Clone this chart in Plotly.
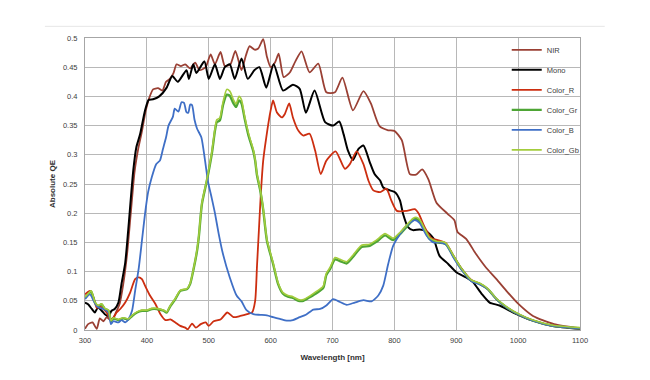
import plotly.graph_objects as go

# ---------------- data ----------------
nir_wl = [300, 305, 312, 319, 324, 330, 335, 340, 345, 350, 356, 362, 368, 374, 380, 386, 392, 398, 404, 410,
          418, 425, 431, 437, 443, 448, 455, 462, 470, 478, 485, 495, 503, 510, 519, 526, 535, 543, 553, 560,
          566, 574, 580, 588, 594, 600, 607, 613, 621, 631, 640, 650, 663, 677, 690, 704, 716, 733, 750, 762,
          776, 790, 800, 812, 825, 835, 845, 855, 868, 886, 897, 902, 916, 932, 948, 965, 981, 1000, 1024,
          1058, 1100]
nir_qe = [0.002, 0.01, 0.013, 0.002, 0.02, 0.015, 0.022, 0.018, 0.02, 0.03, 0.045, 0.08, 0.13, 0.2, 0.27, 0.31,
          0.34, 0.375, 0.398, 0.412, 0.414, 0.41, 0.425, 0.43, 0.44, 0.455, 0.452, 0.455, 0.448, 0.458, 0.445,
          0.45, 0.472, 0.455, 0.476, 0.452, 0.455, 0.478, 0.445, 0.47, 0.486, 0.48, 0.482, 0.498, 0.468, 0.45,
          0.458, 0.473, 0.433, 0.441, 0.46, 0.477, 0.441, 0.456, 0.407, 0.407, 0.432, 0.376, 0.409, 0.388,
          0.349, 0.342, 0.341, 0.325, 0.267, 0.266, 0.275, 0.258, 0.218, 0.199, 0.188, 0.168, 0.156, 0.13,
          0.107, 0.087, 0.067, 0.045, 0.024, 0.01, 0.003]

mono_wl = [300, 305, 311, 316, 321, 327, 332, 338, 343, 348, 354, 359, 365, 370, 378, 383, 389, 397, 403, 410,
           420, 432, 441, 450, 464, 468, 475, 480, 493, 500, 510, 518, 526, 534, 542, 553, 563, 574, 582, 593,
           605, 620, 636, 647, 657, 671, 688, 701, 711, 718, 725, 733, 742, 750, 760, 768, 777, 782, 793, 801,
           809, 814, 822, 830, 841, 852, 863, 873, 887, 900, 916, 927, 941, 954, 970, 992, 1024, 1056, 1100]
mono_qe = [0.047, 0.044, 0.036, 0.03, 0.039, 0.033, 0.027, 0.024, 0.033, 0.036, 0.047, 0.079, 0.115, 0.173,
           0.273, 0.313, 0.335, 0.376, 0.394, 0.395, 0.4, 0.415, 0.435, 0.425, 0.445, 0.43, 0.455, 0.44, 0.46,
           0.43, 0.455, 0.43, 0.45, 0.455, 0.43, 0.465, 0.43, 0.445, 0.45, 0.415, 0.455, 0.41, 0.42, 0.413,
           0.372, 0.41, 0.356, 0.35, 0.357, 0.335, 0.307, 0.291, 0.31, 0.316, 0.288, 0.267, 0.256, 0.244,
           0.239, 0.236, 0.222, 0.199, 0.176, 0.171, 0.172, 0.169, 0.157, 0.127, 0.113, 0.099, 0.09, 0.082,
           0.062, 0.047, 0.042, 0.03, 0.016, 0.007, 0.002]

red_wl = [300, 308, 314, 319, 324, 330, 335, 341, 346, 351, 357, 365, 373, 381, 387, 392, 397, 405, 414, 422,
          430, 438, 446, 454, 462, 466, 473, 479, 487, 495, 500, 508, 519, 530, 540, 551, 562, 570, 575, 578,
          581, 584, 588, 593, 600, 604, 610, 618, 623, 630, 636, 645, 653, 663, 672, 681, 690, 705, 720, 728,
          739, 750, 758, 766, 777, 787, 795, 804, 820, 833, 839, 849, 860, 873, 884, 895, 908, 924, 938, 951,
          965, 981, 1000, 1024, 1056, 1100]
red_qe = [0.061, 0.067, 0.055, 0.038, 0.041, 0.036, 0.03, 0.018, 0.021, 0.03, 0.036, 0.047, 0.064, 0.087, 0.09,
          0.087, 0.076, 0.059, 0.044, 0.027, 0.017, 0.018, 0.013, 0.007, 0.004, 0.001, 0.011, 0.004, 0.01,
          0.013, 0.007, 0.015, 0.018, 0.03, 0.022, 0.024, 0.027, 0.03, 0.05, 0.11, 0.17, 0.23, 0.29, 0.33,
          0.376, 0.393, 0.373, 0.364, 0.37, 0.388, 0.364, 0.341, 0.333, 0.336, 0.307, 0.267, 0.29, 0.306,
          0.276, 0.284, 0.306, 0.284, 0.256, 0.239, 0.236, 0.242, 0.222, 0.204, 0.204, 0.207, 0.2, 0.176,
          0.157, 0.153, 0.148, 0.128, 0.106, 0.086, 0.079, 0.07, 0.053, 0.039, 0.027, 0.016, 0.007, 0.003]

gr_wl = [300, 305, 310, 316, 321, 327, 332, 338, 342, 346, 354, 362, 370, 376, 384, 392, 400, 408, 416, 427,
         432, 438, 446, 454, 465, 470, 476, 481, 484, 489, 497, 505, 510, 513, 518, 523, 529, 534, 540, 544,
         549, 553, 558, 564, 568, 572, 575, 578, 583, 588, 594, 604, 612, 620, 628, 636, 645, 653, 663, 674,
         685, 690, 696, 704, 712, 723, 733, 747, 760, 771, 785, 798, 809, 820, 830, 835, 841, 847, 857, 868,
         879, 884, 895, 908, 924, 938, 951, 965, 981, 1000, 1024, 1056, 1100]
gr_qe = [0.055, 0.061, 0.066, 0.047, 0.041, 0.044, 0.036, 0.033, 0.015, 0.02, 0.017, 0.02, 0.018, 0.024, 0.03,
         0.033, 0.033, 0.036, 0.036, 0.033, 0.03, 0.041, 0.053, 0.067, 0.07, 0.079, 0.107, 0.135, 0.16, 0.216,
         0.256, 0.302, 0.341, 0.356, 0.359, 0.385, 0.403, 0.401, 0.388, 0.382, 0.393, 0.388, 0.362, 0.334,
         0.32, 0.306, 0.29, 0.265, 0.24, 0.206, 0.153, 0.113, 0.079, 0.062, 0.057, 0.055, 0.05, 0.05, 0.056,
         0.063, 0.072, 0.094, 0.104, 0.121, 0.118, 0.114, 0.125, 0.142, 0.144, 0.151, 0.162, 0.154, 0.164,
         0.177, 0.188, 0.19, 0.186, 0.175, 0.156, 0.15, 0.149, 0.146, 0.127, 0.105, 0.085, 0.079, 0.07,
         0.053, 0.039, 0.027, 0.016, 0.007, 0.003]

b_wl = [300, 308, 314, 319, 324, 330, 338, 342, 346, 354, 359, 365, 370, 376, 381, 387, 392, 397, 402, 408,
        415, 421, 426, 431, 435, 442, 445, 451, 456, 460, 464, 467, 470, 473, 477, 481, 488, 494, 499, 505,
        510, 516, 523, 534, 545, 553, 561, 572, 583, 594, 604, 615, 626, 636, 647, 657, 669, 680, 690, 701,
        712, 723, 736, 750, 763, 774, 782, 790, 798, 809, 820, 833, 841, 852, 863, 873, 884, 895, 908, 924,
        938, 951, 965, 981, 1000, 1024, 1056, 1100]
b_qe = [0.053, 0.061, 0.05, 0.041, 0.038, 0.036, 0.03, 0.01, 0.015, 0.013, 0.017, 0.013, 0.018, 0.033, 0.067,
        0.107, 0.153, 0.199, 0.236, 0.262, 0.284, 0.29, 0.31, 0.33, 0.35, 0.365, 0.379, 0.374, 0.39, 0.389,
        0.373, 0.372, 0.386, 0.385, 0.36, 0.345, 0.33, 0.29, 0.253, 0.225, 0.2, 0.165, 0.13, 0.09, 0.059,
        0.049, 0.034, 0.027, 0.026, 0.025, 0.022, 0.019, 0.016, 0.017, 0.022, 0.026, 0.035, 0.036, 0.042,
        0.053, 0.048, 0.043, 0.047, 0.051, 0.049, 0.059, 0.076, 0.113, 0.144, 0.164, 0.179, 0.188, 0.183,
        0.162, 0.15, 0.15, 0.146, 0.125, 0.104, 0.084, 0.078, 0.07, 0.053, 0.039, 0.027, 0.016, 0.007, 0.003]

gb_wl = gr_wl
gb_qe = [0.056, 0.062, 0.067, 0.048, 0.042, 0.045, 0.037, 0.034, 0.016, 0.021, 0.018, 0.021, 0.019, 0.025, 0.031,
         0.034, 0.034, 0.037, 0.037, 0.034, 0.031, 0.042, 0.054, 0.068, 0.071, 0.08, 0.108, 0.137, 0.162, 0.218,
         0.258, 0.305, 0.344, 0.36, 0.363, 0.39, 0.412, 0.409, 0.394, 0.387, 0.4, 0.394, 0.366, 0.338,
         0.323, 0.309, 0.292, 0.267, 0.242, 0.208, 0.155, 0.115, 0.081, 0.064, 0.059, 0.057, 0.052, 0.052, 0.058,
         0.066, 0.075, 0.097, 0.107, 0.124, 0.121, 0.117, 0.128, 0.145, 0.147, 0.154, 0.165, 0.157, 0.167,
         0.18, 0.191, 0.193, 0.189, 0.177, 0.158, 0.152, 0.151, 0.148, 0.128, 0.106, 0.086, 0.08, 0.071,
         0.054, 0.04, 0.028, 0.017, 0.008, 0.004]

y_tick_vals = [0, 0.05, 0.1, 0.15, 0.2, 0.25, 0.3, 0.35, 0.4, 0.45, 0.5]
y_tick_text = ["0", "0.05", "0.1", "0.15", "0.2", "0.25", "0.3", "0.35", "0.4", "0.45", "0.5"]
x_tick_vals = [300, 400, 500, 600, 700, 800, 900, 1000, 1100]

series = [
    ("NIR", nir_wl, nir_qe, "#9a4034", 1.8),
    ("Mono", mono_wl, mono_qe, "#000000", 2.0),
    ("Color_R", red_wl, red_qe, "#cc2e10", 1.8),
    ("Color_Gr", gr_wl, gr_qe, "#4ea535", 2.4),
    ("Color_B", b_wl, b_qe, "#3f6fc6", 1.8),
    ("Color_Gb", gb_wl, gb_qe, "#a3cc3c", 1.6),
]

fig = go.Figure()
for i, (name, xs, ys, col, w) in enumerate(series):
    fig.add_trace(go.Scatter(x=xs, y=ys, mode="lines", name=name, legendgroup=name,
                             line=dict(color=col, width=w, shape="spline", smoothing=0.6)))

FONT = "Liberation Sans"
fig.update_layout(
    width=650, height=380,
    margin=dict(l=77, r=78, t=30, b=58, autoexpand=False),
    paper_bgcolor="white", plot_bgcolor="white",
    font=dict(family=FONT, size=8, color="#404040"),
    showlegend=True,
    legend=dict(x=0.852, y=1.009, xanchor="left", yanchor="top", bgcolor="rgba(0,0,0,0)",
                font=dict(family=FONT, size=7.5, color="#404040"), tracegroupgap=1, itemwidth=30),
    shapes=[dict(type="line", xref="paper", yref="paper", x0=-0.081, x1=1.05, y0=1.04, y1=1.04,
                 line=dict(color="#e6e6e6", width=1))],
)
fig.update_xaxes(range=[300, 1100], tickvals=x_tick_vals, showgrid=True, gridcolor="#b8b8b8", gridwidth=1,
                 showline=True, linecolor="#a6a6a6", linewidth=1, mirror=True, zeroline=False,
                 ticks="", ticklabelstandoff=3, tickfont=dict(size=7.5, color="#404040"),
                 title=dict(text="<b>Wavelength [nm]</b>", font=dict(size=8, color="#303030"), standoff=10))
fig.update_yaxes(range=[0, 0.5], tickvals=y_tick_vals, ticktext=y_tick_text, showgrid=True,
                 gridcolor="#b8b8b8", gridwidth=1, showline=True, linecolor="#a6a6a6", linewidth=1,
                 mirror=True, zeroline=False, ticks="", ticklabelstandoff=5,
                 tickfont=dict(size=7.5, color="#404040"),
                 title=dict(text="<b>Absolute QE</b>", font=dict(size=8, color="#303030"), standoff=6))

fig.write_html("out.html")
